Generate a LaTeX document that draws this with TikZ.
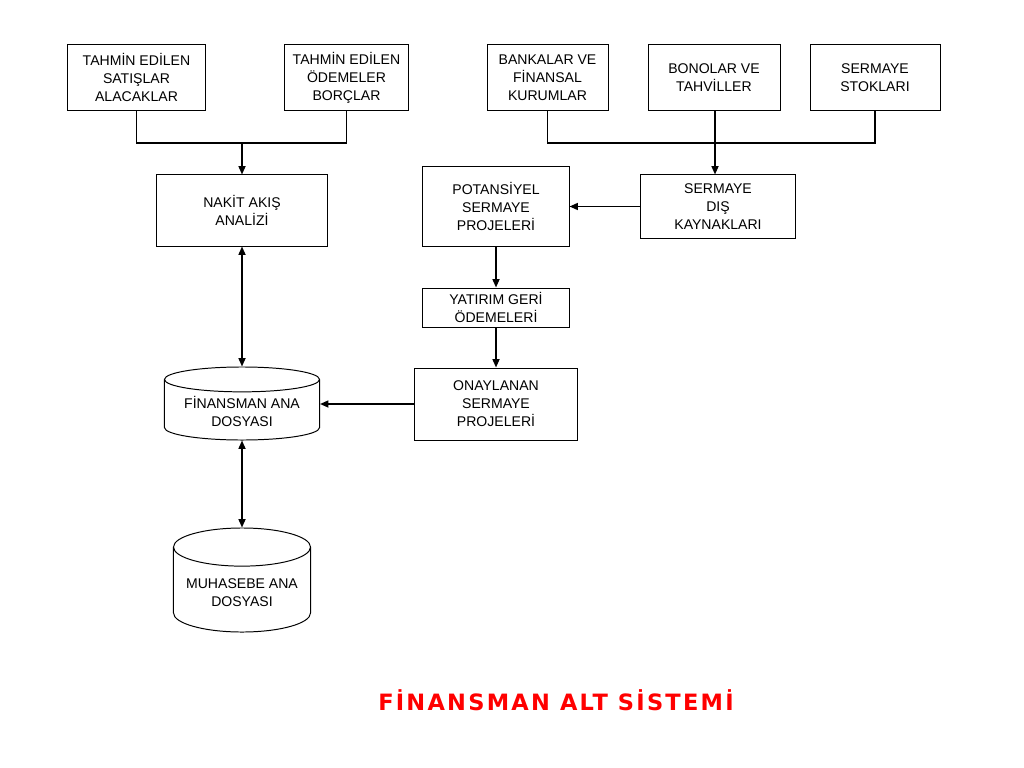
\documentclass[tikz,border=0pt]{standalone}
\usepackage{fontspec}
\setmainfont{Liberation Sans}
\newfontfamily\baslikfont[LetterSpace=10]{DejaVu Sans}
\usepackage{tikz}
\usetikzlibrary{arrows.meta, shapes.geometric}

\begin{document}
\begin{tikzpicture}[x=0.025cm, y=-0.025cm,
		kutu/.style={draw, line width=0.7pt, align=center, inner sep=2pt,
			font=\fontsize{10}{12.8}\selectfont},
		disk/.style={kutu, cylinder, shape border rotate=90, anchor=shape center},
		hat/.style={line width=1.1pt},
		ok/.style={hat, -{Triangle[length=6pt, width=5pt]}},
		ciftok/.style={hat, {Triangle[length=6pt, width=5pt]}-{Triangle[length=6pt, width=5pt]}}]
	
	\useasboundingbox (0,0) rectangle (1024,768);
	
	% --- üst sıra: tahmin kutuları ---
	\node[kutu, minimum width=3.425cm, minimum height=1.625cm] (satis) at (136.5,77.5) {TAHMİN EDİLEN\\SATIŞLAR\\ALACAKLAR};
	\node[kutu, minimum width=3.075cm, minimum height=1.625cm] (odeme) at (346.5,77.5) {TAHMİN EDİLEN\\ÖDEMELER\\BORÇLAR};
	
	% --- üst sıra: dış kaynaklar ---
	\node[kutu, minimum width=3.025cm, minimum height=1.625cm] (banka) at (547.5,77.5) {BANKALAR VE\\FİNANSAL\\KURUMLAR};
	\node[kutu, minimum width=3.3cm, minimum height=1.625cm] (bono) at (714,77.5) {BONOLAR VE\\TAHVİLLER};
	\node[kutu, minimum width=3.25cm, minimum height=1.625cm] (stok) at (875,77.5) {SERMAYE\\STOKLARI};
	
	% --- orta kutular ---
	\node[kutu, minimum width=4.25cm, minimum height=1.775cm] (nakit) at (242,210.5) {NAKİT AKIŞ\\ANALİZİ};
	\node[kutu, minimum width=3.85cm, minimum height=1.575cm] (dis) at (718,206.5) {SERMAYE\\DIŞ\\KAYNAKLARI};
	\node[kutu, minimum width=3.65cm, minimum height=1.975cm] (potans) at (496,206.5) {POTANSİYEL\\SERMAYE\\PROJELERİ};
	\node[kutu, minimum width=3.65cm, minimum height=0.975cm] (yatirim) at (496,307.5) {YATIRIM GERİ\\ÖDEMELERİ};
	\node[kutu, minimum width=4.05cm, minimum height=1.8cm] (onay) at (496,404) {ONAYLANAN\\SERMAYE\\PROJELERİ};
	
	% --- dosyalar (silindir) ---
	\node[disk, aspect=0.205, minimum width=3.875cm, minimum height=1.825cm] (finans) at (242,403.5) {FİNANSMAN ANA\\DOSYASI};
	\node[disk, aspect=0.325, minimum width=3.425cm, minimum height=2.6cm] (muhasebe) at (242,580) {MUHASEBE ANA\\DOSYASI};
	
	% --- bağlantılar ---
	\coordinate (solbara) at (242,143);
	\coordinate (sagbara) at (715,143);
	\draw[hat] (satis.south) |- (solbara);
	\draw[hat] (odeme.south) |- (solbara);
	\draw[ok] (solbara) -- (nakit.north);
	
	\draw[hat] (banka.south) |- (sagbara);
	\draw[hat] (stok.south) |- (sagbara);
	\draw[ok] (bono.south -| sagbara) -- (sagbara |- dis.north);
	
	\draw[ok] (dis.west) -- (potans.east);
	\draw[ok] (potans.south) -- (yatirim.north);
	\draw[ok] (yatirim.south) -- (onay.north);
	\draw[ok] (onay.west) -- (finans.east |- onay.west);
	
	\draw[ciftok] (nakit.south) -- (finans.north);
	\draw[ciftok] (finans.south) -- (muhasebe.north);
	
	% --- başlık ---
	\node[text=red, font=\baslikfont\fontsize{16}{19}\selectfont\bfseries] (baslik) at (556,700) {FİNANSMAN ALT SİSTEMİ};
	
\end{tikzpicture}
\end{document}
